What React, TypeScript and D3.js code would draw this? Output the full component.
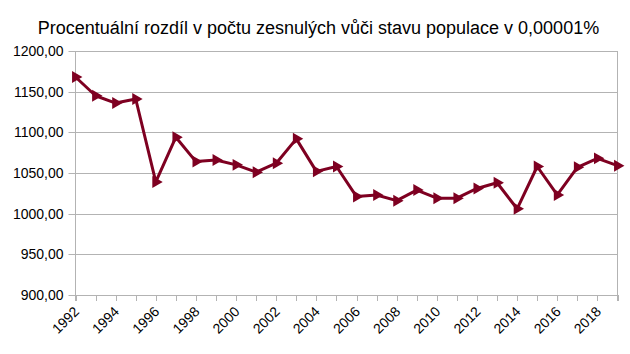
import React from 'react'
import * as d3 from 'd3'

const width = 630
const height = 354
const margin = { top: 51, left: 75.5, right: 12.5, bottom: 59 }

const years = [1992, 1993, 1994, 1995, 1996, 1997, 1998, 1999, 2000, 2001, 2002, 2003, 2004, 2005,
  2006, 2007, 2008, 2009, 2010, 2011, 2012, 2013, 2014, 2015, 2016, 2017, 2018, 2019]
const values = [1168, 1145, 1136, 1141, 1039, 1094, 1064, 1066, 1060, 1051, 1062, 1092, 1052, 1058,
  1021, 1023, 1016, 1029, 1019, 1019, 1031, 1038, 1006, 1058, 1023, 1057, 1068, 1059]
const yTicks = [900, 950, 1000, 1050, 1100, 1150, 1200]

const color = '#7e0021'
const font = '"Liberation Sans", Arial, sans-serif'

export default function App() {
  const x = d3.scaleLinear()
    .domain([years[0], years[years.length - 1]])
    .range([margin.left, width - margin.right])
  const y = d3.scaleLinear()
    .domain([900, 1200])
    .range([height - margin.bottom, margin.top])

  const line = d3.line<number>()
    .x((_, i) => x(years[i]))
    .y(d => y(d))
  const tri = d3.symbol().type(d3.symbolTriangle).size(62)()

  const fmt = (v: number) => v.toFixed(2).replace('.', ',')
  const bottom = y(900)

  return (
    <svg width={width} height={height} style={{ position: 'absolute', left: 0, top: 0, background: '#fff' }}
      fontFamily={font}>
      <text x={318.5} y={33.5} textAnchor="middle" fontSize={18} fill="#000">
        Procentuální rozdíl v počtu zesnulých vůči stavu populace v 0,00001%
      </text>

      {yTicks.map(t => (
        <g key={t}>
          <line x1={margin.left} x2={width - margin.right} y1={Math.round(y(t)) + 0.5} y2={Math.round(y(t)) + 0.5}
            stroke="#b3b3b3" strokeWidth={1} />
          <line x1={margin.left - 7} x2={margin.left} y1={Math.round(y(t)) + 0.5} y2={Math.round(y(t)) + 0.5}
            stroke="#b3b3b3" strokeWidth={1} />
          <text x={margin.left - 12} y={y(t)} dy="0.35em" textAnchor="end" fontSize={14} fill="#000">
            {fmt(t)}
          </text>
        </g>
      ))}

      <line x1={margin.left} x2={margin.left} y1={margin.top} y2={bottom + 6} stroke="#b3b3b3" />
      <line x1={width - margin.right} x2={width - margin.right} y1={margin.top} y2={bottom + 6} stroke="#b3b3b3" />

      {years.map(yr => (
        <line key={yr} x1={Math.round(x(yr)) + 0.5} x2={Math.round(x(yr)) + 0.5} y1={bottom} y2={bottom + 6}
          stroke="#b3b3b3" />
      ))}
      {years.filter(yr => yr % 2 === 0).map(yr => (
        <text key={yr} fontSize={14} fill="#000" textAnchor="end"
          transform={`translate(${x(yr) + 1},${bottom + 14}) rotate(-45)`} dy="0.35em">
          {yr}
        </text>
      ))}

      <path d={line(values) || ''} fill="none" stroke={color} strokeWidth={3} strokeLinejoin="round" />
      {values.map((v, i) => (
        <path key={i} d={tri || ''} fill={color}
          transform={`translate(${x(years[i])},${y(v)}) rotate(90)`} />
      ))}
    </svg>
  )
}
